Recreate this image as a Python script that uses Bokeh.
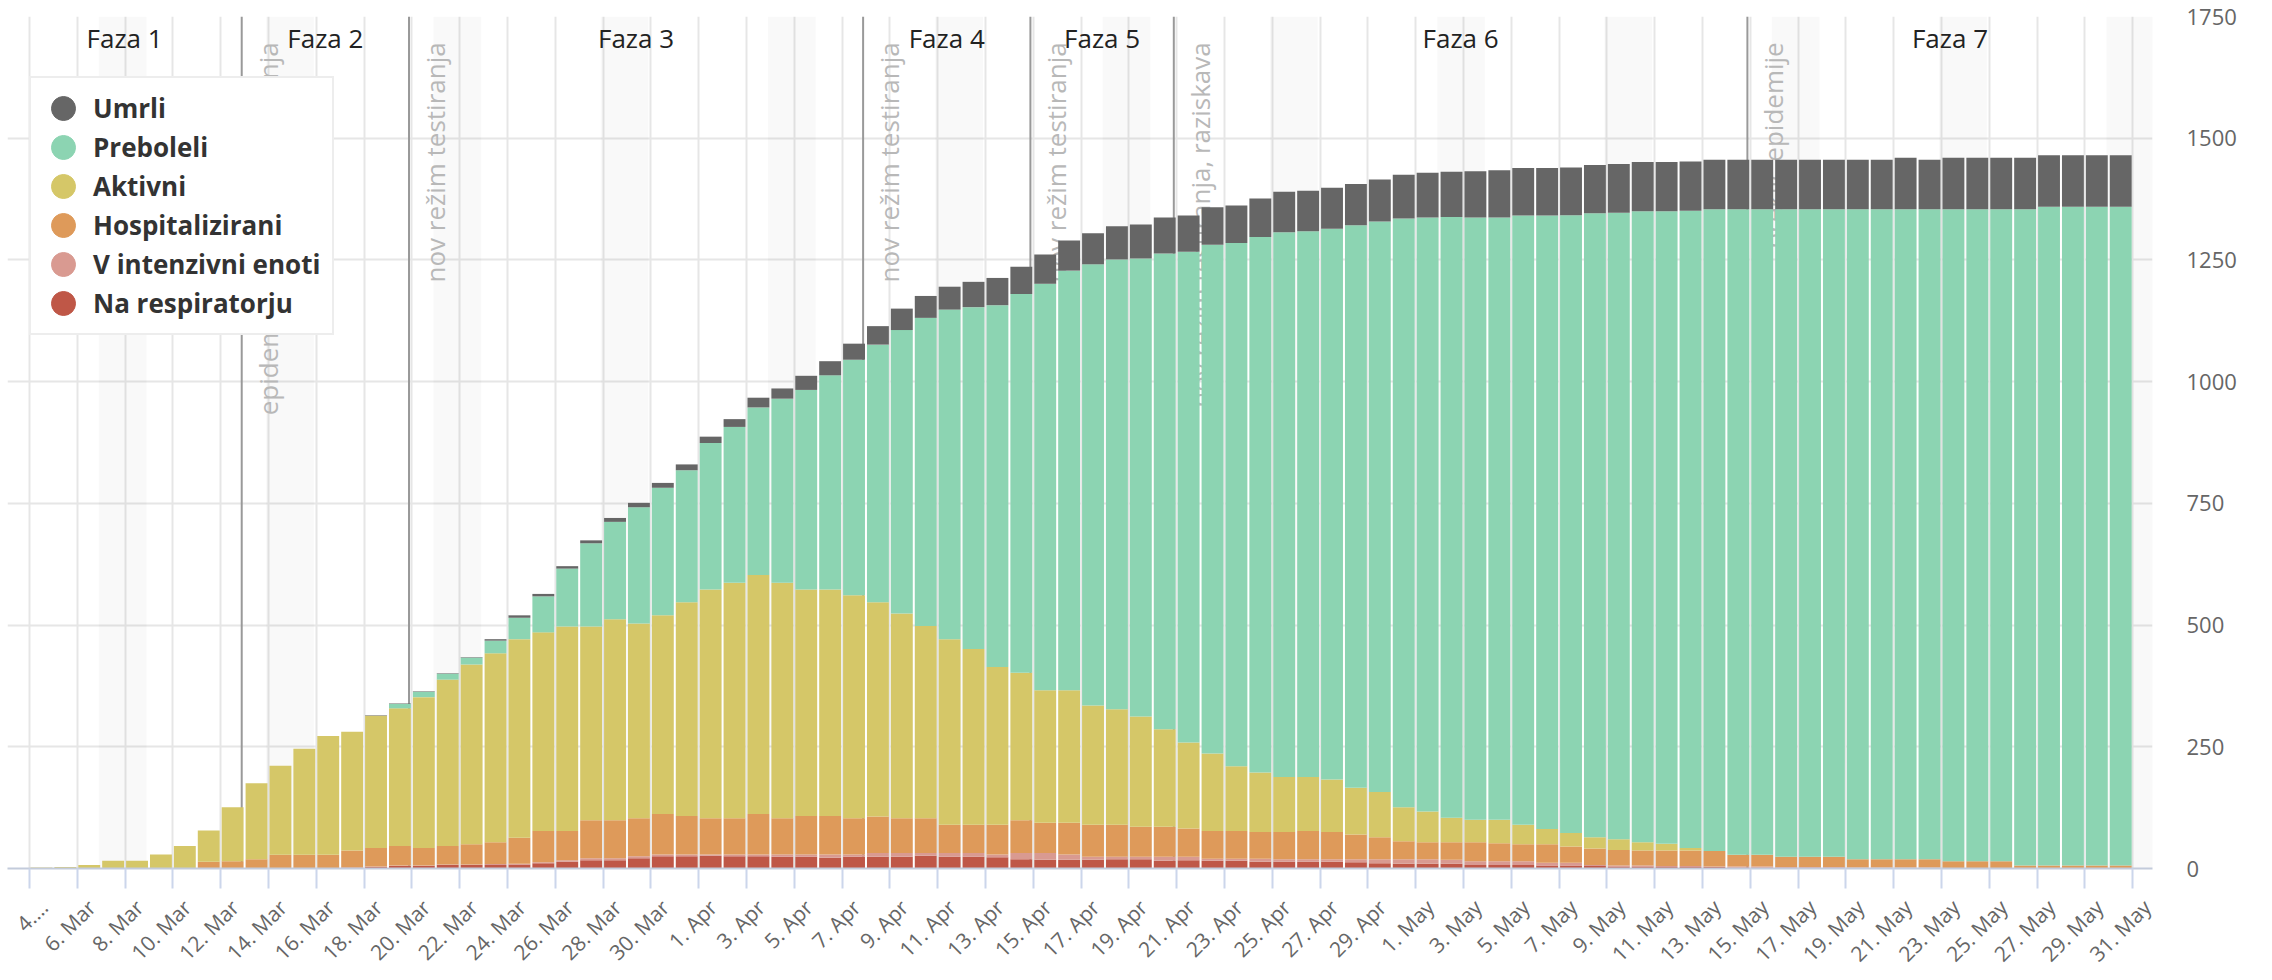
from math import pi
from bokeh.plotting import figure
from bokeh.models import (ColumnDataSource, FixedTicker, Range1d, LinearAxis, Span, Label,
                          BoxAnnotation, Legend, LegendItem)
from bokeh.embed import file_html
from bokeh.resources import INLINE

FONT = "Open Sans"

# ---------------- data ----------------
# day index 0 = 4. Mar 2020 ... 88 = 31. May 2020 (one stacked bar per day)
day_index = list(range(89))

na_respiratorju = [0,0,0,0,0,0,0,0,0,0,0,0,
                   1,1,2,3,5,5,7,7,7,8,
                   11,14,17,17,21,25,25,26,25,25,
                   24,24,22,24,24,24,26,24,24,23,
                   19,18,18,18,19,19,16,17,16,16,
                   14,14,14,14,13,11,10,10,10,7,
                   7,7,6,6,5,4,4,3,3,3,
                   2,2,2,2,2,1,1,1,1,1,
                   1,1,0,0,0,0,0]
v_intenzivni_enoti = [0,0,0,0,0,0,0,0,0,0,0,0,0,0,0,
                      1,1,1,1,1,2,2,
                      2,3,4,4,4,4,4,3,4,4,
                      5,5,7,5,8,8,6,8,8,6,
                      13,14,11,6,5,5,8,7,4,4,
                      6,5,5,5,6,8,9,9,8,8,
                      8,8,6,6,2,2,2,2,2,1,
                      2,2,1,1,1,1,1,1,1,0,
                      0,0,1,1,1,0,0]
hospitalizirani = [0,0,0,0,0,0,0,0,
                   14,15,19,28,
                   27,27,35,38,40,36,38,42,45,53,
                   64,60,78,78,78,83,79,74,74,83,
                   74,79,79,74,75,71,71,58,58,61,
                   67,62,65,66,66,62,62,58,57,57,
                   55,56,58,56,51,45,37,35,36,39,
                   37,35,38,33,34,32,31,32,32,32,
                   24,24,21,21,21,17,17,17,17,14,
                   14,14,5,5,5,6,6]
aktivni = [1,2,3,7,16,16,29,46,
           64,111,156,183,
           218,244,244,272,283,310,342,369,388,408,
           408,420,398,413,400,408,439,470,484,491,
           484,465,465,458,440,421,395,381,361,324,
           303,272,272,245,237,226,200,177,159,133,
           122,113,111,108,96,93,70,63,50,46,
           48,40,31,28,23,22,17,14,5,0,
           0,0,0,0,0,0,0,0,0,0,
           0,0,0,0,0,0,0]
preboleli = [0,0,0,0,0,0,0,0,0,0,0,0,0,0,0,0,
             9,11,12,14,26,44,
             74,119,171,200,239,262,271,301,320,344,
             378,410,440,484,529,582,633,677,702,743,
             778,835,862,906,924,941,977,1008,1045,1075,
             1100,1119,1121,1131,1155,1172,1209,1220,1234,1237,
             1237,1251,1260,1269,1282,1287,1296,1299,1309,1318,
             1326,1326,1330,1330,1330,1335,1335,1335,1335,1339,
             1339,1339,1348,1353,1353,1353,1353]
umrli = [0,0,0,0,0,0,0,0,0,0,0,0,0,0,0,
         1,1,1,1,1,3,5,
         5,5,6,8,9,10,12,13,16,20,
         21,29,29,33,38,44,45,47,52,56,
         56,60,62,64,68,70,74,74,77,77,
         79,83,83,84,85,86,90,92,93,95,
         97,98,98,98,99,100,101,101,101,102,
         102,102,102,102,102,102,102,106,102,106,
         106,106,106,106,106,106,106]

series_keys = ["resp", "icu", "hosp", "act", "rec", "dec"]
series_names = ["Na respiratorju", "V intenzivni enoti", "Hospitalizirani",
                "Aktivni", "Preboleli", "Umrli"]
series_colors = ["#bf5747", "#d99a91", "#de9a5a", "#d5c768", "#8cd4b2", "#666666"]

tick_days = list(range(0, 89, 2))
tick_labels = ["4.…", "6. Mar", "8. Mar", "10. Mar", "12. Mar", "14. Mar", "16. Mar",
               "18. Mar", "20. Mar", "22. Mar", "24. Mar", "26. Mar", "28. Mar", "30. Mar",
               "1. Apr", "3. Apr", "5. Apr", "7. Apr", "9. Apr", "11. Apr", "13. Apr",
               "15. Apr", "17. Apr", "19. Apr", "21. Apr", "23. Apr", "25. Apr", "27. Apr",
               "29. Apr", "1. May", "3. May", "5. May", "7. May", "9. May", "11. May",
               "13. May", "15. May", "17. May", "19. May", "21. May", "23. May", "25. May",
               "27. May", "29. May", "31. May"]
y_ticks = [0, 250, 500, 750, 1000, 1250, 1500, 1750]

weekend_saturdays = [3, 10, 17, 24, 31, 38, 45, 52, 59, 66, 73, 80, 87]

phase_line_days = [9, 16, 35, 42, 48, 72]
phase_line_texts = ["epidemija, nov režim testiranja", "nov režim testiranja",
                    "nov režim testiranja", "nov režim testiranja",
                    "nov režim testiranja, raziskava", "preklic epidemije"]
phase_names = ["Faza 1", "Faza 2", "Faza 3", "Faza 4", "Faza 5", "Faza 6", "Faza 7"]

# ---------------- figure ----------------
X0, X1 = -0.92, 88.83
p = figure(width=2260, height=980, output_backend="svg", toolbar_location=None,
           x_range=Range1d(X0, X1), y_range=Range1d(0, 1750),
           y_axis_location="right",
           min_border_left=7, min_border_top=16, min_border_right=108, min_border_bottom=111)
p.outline_line_color = None
p.background_fill_color = "white"
p.border_fill_color = "white"

GRID = "#e6e6e6"
p.xgrid.ticker = FixedTicker(ticks=tick_days)
p.xgrid.grid_line_color = GRID
p.xgrid.grid_line_width = 2
p.ygrid.ticker = FixedTicker(ticks=y_ticks)
p.ygrid.grid_line_color = GRID
p.ygrid.grid_line_width = 2

# weekend bands
for s in weekend_saturdays:
    p.add_layout(BoxAnnotation(left=s - 0.1, right=s + 1.9, fill_color="#000000",
                               fill_alpha=0.022, line_color=None, level="underlay"))

# phase lines + rotated labels
line_pos = [d - 0.12 for d in phase_line_days]
for pos, txt in zip(line_pos, phase_line_texts):
    p.add_layout(Span(location=pos, dimension="height", line_color="#999999",
                      line_width=2, level="underlay"))
    p.add_layout(Label(x=pos, y=1697, text=txt, angle=pi / 2, text_align="right",
                       text_baseline="top", x_offset=8, text_font=FONT,
                       text_font_size="26px", text_color="#b8b8b8", level="underlay"))

bounds = [X0] + line_pos + [X1]
for i, name in enumerate(phase_names):
    p.add_layout(Label(x=(bounds[i] + bounds[i + 1]) / 2, y=1706, text=name,
                       text_align="center", text_baseline="middle", text_font=FONT,
                       text_font_size="26px", text_color="#222222"))

# stacked bars
src = ColumnDataSource(dict(
    x=[d - 0.5 for d in day_index],
    resp=na_respiratorju, icu=v_intenzivni_enoti, hosp=hospitalizirani,
    act=aktivni, rec=preboleli, dec=umrli))
p.vbar_stack(series_keys, x="x", width=0.916, color=series_colors, line_color=None,
             source=src)

# axes
xa = p.xaxis[0]
xa.ticker = FixedTicker(ticks=tick_days)
xa.major_tick_out = 20
xa.major_tick_in = 0
xa.major_tick_line_color = "#ccd6eb"
xa.major_tick_line_width = 2
xa.minor_tick_line_color = None
xa.axis_line_color = "#c3cbdb"
xa.axis_line_width = 2
xa.major_label_overrides = {d: "" for d in tick_days}
xa.major_label_text_font_size = "0px"
xa.major_label_standoff = 0

SHIFT = 0.6
p.extra_x_ranges = {"lbl": Range1d(X0 - SHIFT, X1 - SHIFT)}
xb = LinearAxis(x_range_name="lbl", ticker=FixedTicker(ticks=tick_days))
xb.major_label_overrides = {d: lab for d, lab in zip(tick_days, tick_labels)}
xb.major_label_orientation = pi / 4
xb.major_label_text_font = FONT
xb.major_label_text_font_size = "21px"
xb.major_label_text_color = "#666666"
xb.major_label_standoff = 15
xb.major_tick_line_color = None
xb.minor_tick_line_color = None
xb.axis_line_color = None
xb.major_tick_out = 0
xb.major_tick_in = 0
p.add_layout(xb, "below")

ya = p.yaxis[0]
ya.ticker = FixedTicker(ticks=y_ticks)
ya.major_tick_out = 0
ya.major_tick_in = 0
ya.minor_tick_line_color = None
ya.axis_line_color = None
ya.major_label_standoff = 34
ya.major_label_text_font = FONT
ya.major_label_text_font_size = "22px"
ya.major_label_text_color = "#666666"

# legend with round markers
nan = float("nan")
legend_items = []
for name, col in reversed(list(zip(series_names, series_colors))):
    r = p.ellipse(x=[nan], y=[nan], width=24, height=24, width_units="screen",
                  height_units="screen", fill_color=col, line_color=col)
    legend_items.append(LegendItem(label=name, renderers=[r]))

legend = Legend(items=legend_items, location=(22, 533), orientation="vertical",
                glyph_width=40, glyph_height=30, label_height=30, spacing=3,
                label_standoff=10, padding=12, margin=0,
                label_text_font=FONT, label_text_font_size="26px",
                label_text_font_style="bold", label_text_color="#333333",
                border_line_color="#dcdcdc", border_line_width=2,
                background_fill_color="white", background_fill_alpha=1.0)
p.add_layout(legend)

open("out.html", "w").write(file_html(p, INLINE))
